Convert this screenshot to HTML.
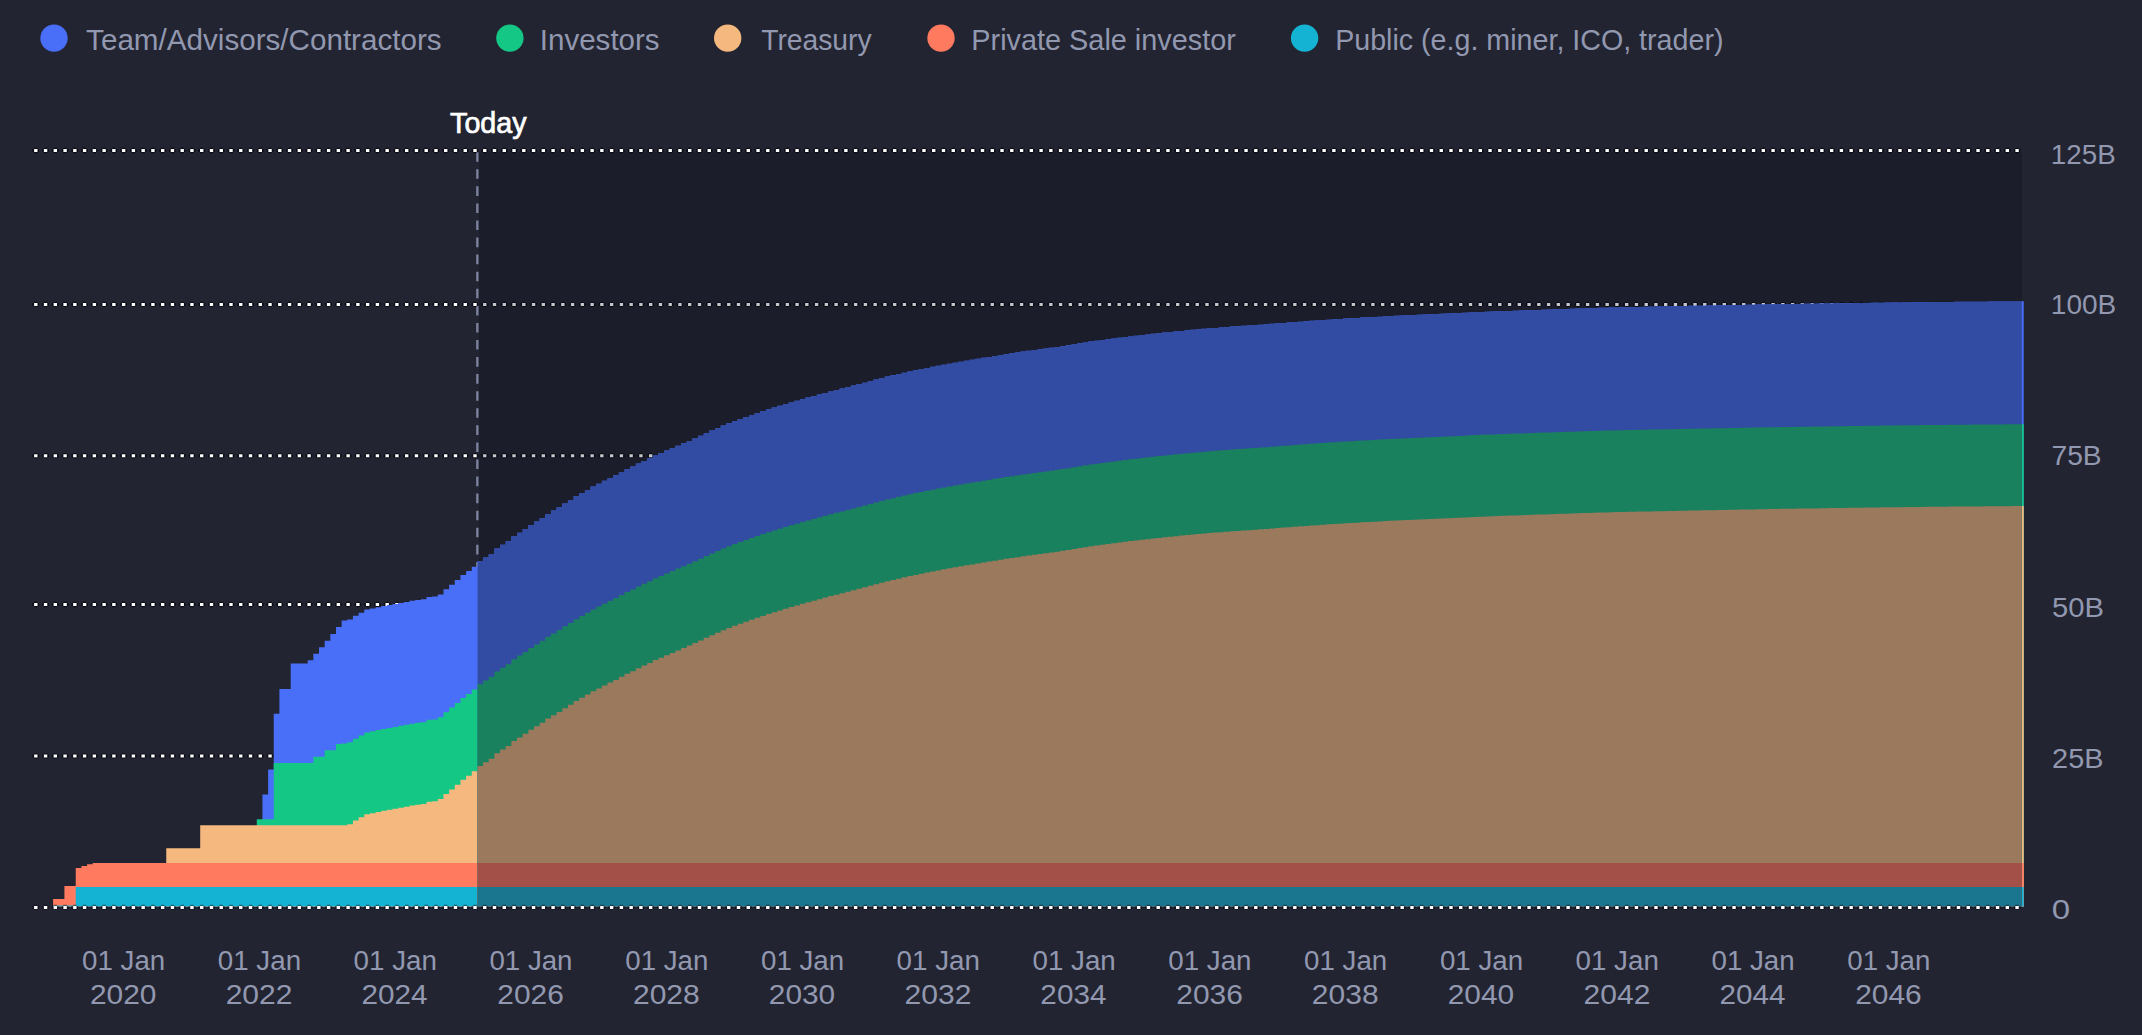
<!DOCTYPE html>
<html lang="en">
<head>
<meta charset="utf-8">
<title>Token unlock schedule</title>
<style>
html,body{margin:0;padding:0;background:#222431;}
body{width:2142px;height:1035px;overflow:hidden;font-family:"Liberation Sans",Arial,sans-serif;}
svg{display:block;}
</style>
</head>
<body>
<svg width="2142" height="1035" viewBox="0 0 2142 1035" font-family="'Liberation Sans', Arial, sans-serif">
<rect width="2142" height="1035" fill="#222431"/>
<line id="today-line" x1="477.35" x2="477.35" y1="152.2" y2="907.4" stroke="#7d84a0" stroke-width="2.3" stroke-dasharray="9.6 7.47"/>
<g id="grid"><line x1="32.40" x2="2021.5" y1="150.5" y2="150.5" stroke="#070812" stroke-opacity="0.8" stroke-width="3.0" stroke-dasharray="6.8 2.96"/><line x1="34.1" x2="2019.5" y1="150.5" y2="150.5" stroke="#070812" stroke-opacity="0.8" stroke-width="5.3" stroke-dasharray="3.4 6.36"/><line x1="34.1" x2="2019.5" y1="150.5" y2="150.5" stroke="#fff" stroke-width="3.0" stroke-dasharray="3.4 6.36" /><line x1="32.40" x2="2021.5" y1="304.4" y2="304.4" stroke="#070812" stroke-opacity="0.8" stroke-width="3.0" stroke-dasharray="6.8 2.96"/><line x1="34.1" x2="2019.5" y1="304.4" y2="304.4" stroke="#070812" stroke-opacity="0.8" stroke-width="5.3" stroke-dasharray="3.4 6.36"/><line x1="34.1" x2="2019.5" y1="304.4" y2="304.4" stroke="#fff" stroke-width="3.0" stroke-dasharray="3.4 6.36" /><line x1="32.40" x2="2021.5" y1="455.7" y2="455.7" stroke="#070812" stroke-opacity="0.8" stroke-width="3.0" stroke-dasharray="6.8 2.96"/><line x1="34.1" x2="2019.5" y1="455.7" y2="455.7" stroke="#070812" stroke-opacity="0.8" stroke-width="5.3" stroke-dasharray="3.4 6.36"/><line x1="34.1" x2="2019.5" y1="455.7" y2="455.7" stroke="#fff" stroke-width="3.0" stroke-dasharray="3.4 6.36" /><line x1="32.40" x2="2021.5" y1="604.5" y2="604.5" stroke="#070812" stroke-opacity="0.8" stroke-width="3.0" stroke-dasharray="6.8 2.96"/><line x1="34.1" x2="2019.5" y1="604.5" y2="604.5" stroke="#070812" stroke-opacity="0.8" stroke-width="5.3" stroke-dasharray="3.4 6.36"/><line x1="34.1" x2="2019.5" y1="604.5" y2="604.5" stroke="#fff" stroke-width="3.0" stroke-dasharray="3.4 6.36" /><line x1="32.40" x2="2021.5" y1="755.9" y2="755.9" stroke="#070812" stroke-opacity="0.8" stroke-width="3.0" stroke-dasharray="6.8 2.96"/><line x1="34.1" x2="2019.5" y1="755.9" y2="755.9" stroke="#070812" stroke-opacity="0.8" stroke-width="5.3" stroke-dasharray="3.4 6.36"/><line x1="34.1" x2="2019.5" y1="755.9" y2="755.9" stroke="#fff" stroke-width="3.0" stroke-dasharray="3.4 6.36" /></g>
<rect id="future-shade" x="479.0" y="152" width="1542.80" height="755.40" fill="#040a17" fill-opacity="0.23"/>
<defs><clipPath id="fut"><rect x="477.6" y="140" width="1544.20" height="780"/></clipPath></defs>
<g id="areas-past"><path fill="#496ef7" d="M262.44,906.60V794.50H268.09V769.45H273.75V713.80H279.41V689.10H285.06H290.72V663.50H296.38H302.04H307.69V660.30H313.35V653.75H319.01V647.20H324.67V640.70H330.32V634.05H335.98V627.10H341.64V620.50H347.30V619.43H352.95V615.87H358.61V612.63H364.27V609.60H369.93V608.43H375.58V607.20H381.24V606.10H386.90V605.03H392.56V604.00H398.21V602.93H403.87V601.93H409.53V600.87H415.19V599.97H420.85V599.23H426.50V596.97H432.16V596.50H437.82V594.40H443.48V589.23H449.13V584.70H454.79V580.12H460.45V575.03H466.11V571.03H471.76V566.63H477.42V561.33H483.08V557.53H488.74V553.97H494.39V548.60H500.05V544.80H505.71V541.25H511.37V536.25H517.02V532.70H522.68V529.12H528.34V525.05H534.00V521.50H539.65V517.95H545.31V513.90H550.97V510.55H556.62V507.20H562.28V503.45H567.94V500.10H573.60V496.30H579.25V493.12H584.91V489.88H590.57V486.55H596.23V483.70H601.88V480.82H607.54V477.88H613.20V475.20H618.86V472.02H624.51V469.15H630.17V466.50H635.83V463.60H641.49V460.90H647.14V458.30H652.80V455.40H658.46V453.00H664.12V450.60H669.77V448.20H675.43V445.70H681.09V443.30H686.75V440.90H692.40V438.39H698.06V435.79H703.72V433.16H709.38V430.54H715.03V427.99H720.69V425.57H726.35V423.31H732.01V421.14H737.66V419.04H743.32V417.00H748.98V415.02H754.64V413.10H760.29V411.21H765.95V409.37H771.61V407.57H777.27V405.80H782.92V404.09H788.58V402.41H794.24V400.77H799.90V399.16H805.55V397.57H811.21V396.01H816.87V394.45H822.53V392.91H828.18V391.42H833.84V389.95H839.50V388.50H845.16V387.06H850.81V385.61H856.47V384.15H862.13V382.66H867.79V381.10H873.44V379.50H879.10V378.01H884.76V376.61H890.42V375.26H896.07V373.94H901.73V372.66H907.39V371.42H913.05V370.21H918.70V369.04H924.36V367.89H930.02V366.78H935.68V365.70H941.33V364.65H946.99V363.63H952.65V362.63H958.31V361.65H963.96V360.67H969.62V359.71H975.28V358.76H980.94V357.81H986.59V356.88H992.25V355.96H997.91V355.06H1003.57V354.17H1009.23V353.29H1014.88V352.43H1020.54V351.59H1026.20V350.79H1031.86V350.01H1037.51V349.26H1043.17V348.50H1048.83V347.74H1054.49V346.95H1060.14V346.13H1065.80V345.25H1071.46V344.27H1077.12V343.31H1082.77V342.45H1088.43V341.61H1094.09V340.81H1099.74V340.03H1105.40V339.27H1111.06V338.53H1116.72V337.81H1122.38V337.11H1128.03V336.42H1133.69V335.74H1139.35V335.08H1145.01V334.44H1150.66V333.81H1156.32V333.20H1161.98V332.60H1167.63V332.02H1173.29V331.46H1178.95V330.91H1184.61V330.37H1190.26V329.85H1195.92V329.34H1201.58V328.84H1207.24V328.36H1212.89V327.89H1218.55V327.44H1224.21V327.01H1229.87V326.60H1235.53V326.21H1241.18V325.83H1246.84V325.45H1252.50V325.07H1258.15V324.67H1263.81V324.26H1269.47V323.81H1275.13V323.36H1280.78V322.92H1286.44V322.49H1292.10V322.07H1297.76V321.65H1303.41V321.23H1309.07V320.83H1314.73V320.43H1320.39V320.04H1326.04V319.67H1331.70V319.31H1337.36V318.95H1343.02V318.60H1348.67V318.26H1354.33V317.93H1359.99V317.60H1365.65V317.29H1371.31V316.98H1376.96V316.68H1382.62V316.39H1388.28V316.10H1393.93V315.83H1399.59V315.56H1405.25V315.29H1410.91V315.02H1416.57V314.76H1422.22V314.49H1427.88V314.24H1433.54V313.98H1439.19V313.73H1444.85V313.49H1450.51V313.24H1456.17V312.98H1461.83V312.73H1467.48V312.46H1473.14V312.18H1478.80V311.93H1484.45V311.70H1490.11V311.49H1495.77V311.28H1501.43V311.08H1507.09V310.88H1512.74V310.69H1518.40V310.50H1524.06V310.30H1529.71V310.10H1535.37V309.90H1541.03V309.70H1546.69V309.51H1552.35V309.31H1558.00V309.12H1563.66V308.93H1569.32V308.75H1574.97V308.57H1580.63V308.39H1586.29V308.20H1591.95V308.02H1597.61V307.85H1603.26V307.68H1608.92V307.52H1614.58V307.38H1620.23V307.24H1625.89V307.12H1631.55V307.01H1637.21V306.91H1642.87V306.81H1648.52V306.71H1654.18V306.61H1659.84V306.50H1665.49V306.38H1671.15V306.24H1676.81V306.11H1682.47V305.99H1688.12V305.87H1693.78V305.76H1699.44V305.66H1705.10V305.55H1710.75V305.45H1716.41V305.34H1722.07V305.24H1727.73V305.13H1733.38V305.02H1739.04V304.90H1744.70V304.79H1750.36V304.68H1756.01V304.57H1761.67V304.46H1767.33V304.36H1772.99V304.26H1778.64V304.17H1784.30V304.09H1789.96V304.00H1795.62V303.92H1801.27V303.84H1806.93V303.76H1812.59V303.68H1818.25V303.59H1823.90V303.51H1829.56V303.42H1835.22V303.34H1840.88V303.26H1846.53V303.17H1852.19V303.09H1857.85V303.00H1863.51V302.92H1869.16V302.82H1874.82V302.73H1880.48V302.66H1886.14V302.59H1891.79V302.52H1897.45V302.45H1903.11V302.39H1908.77V302.32H1914.42V302.26H1920.08V302.20H1925.74V302.14H1931.40V302.09H1937.05V302.03H1942.71V301.98H1948.37V301.92H1954.03V301.87H1959.68V301.82H1965.34V301.77H1971.00V301.72H1976.66V301.68H1982.31V301.63H1987.97V301.58H1993.63V301.54H1999.29V301.50H2004.94V301.46H2010.60V301.42H2016.26V301.38H2021.92V301.34H2023.70V906.60Z"/><path fill="#14c784" d="M256.78,906.60V819.30H262.44H268.09H273.75V763.00H279.41H285.06H290.72H296.38H302.04H307.69H313.35V756.80H319.01H324.67V750.35H330.32H335.98V743.90H341.64V743.40H347.30V742.33H352.95V738.77H358.61V735.53H364.27V732.50H369.93V731.33H375.58V730.10H381.24V729.00H386.90V727.93H392.56V726.90H398.21V725.83H403.87V724.83H409.53V723.77H415.19V722.87H420.85V722.13H426.50V719.87H432.16V719.40H437.82V717.30H443.48V712.13H449.13V707.60H454.79V703.02H460.45V697.93H466.11V693.93H471.76V689.53H477.42V684.23H483.08V680.43H488.74V676.87H494.39V671.50H500.05V667.70H505.71V664.15H511.37V659.15H517.02V655.60H522.68V652.02H528.34V647.95H534.00V644.40H539.65V640.85H545.31V636.80H550.97V633.45H556.62V630.10H562.28V626.35H567.94V623.00H573.60V619.20H579.25V616.02H584.91V612.78H590.57V609.45H596.23V606.60H601.88V603.72H607.54V600.77H613.20V598.10H618.86V594.92H624.51V592.05H630.17V589.40H635.83V586.50H641.49V583.80H647.14V581.20H652.80V578.30H658.46V575.90H664.12V573.50H669.77V571.10H675.43V568.60H681.09V566.20H686.75V563.80H692.40V561.29H698.06V558.69H703.72V556.06H709.38V553.44H715.03V550.89H720.69V548.47H726.35V546.21H732.01V544.04H737.66V541.94H743.32V539.90H748.98V537.92H754.64V536.00H760.29V534.11H765.95V532.27H771.61V530.47H777.27V528.70H782.92V526.99H788.58V525.31H794.24V523.67H799.90V522.06H805.55V520.47H811.21V518.91H816.87V517.35H822.53V515.81H828.18V514.32H833.84V512.85H839.50V511.40H845.16V509.96H850.81V508.51H856.47V507.05H862.13V505.56H867.79V504.00H873.44V502.40H879.10V500.91H884.76V499.51H890.42V498.16H896.07V496.84H901.73V495.56H907.39V494.32H913.05V493.11H918.70V491.94H924.36V490.79H930.02V489.68H935.68V488.60H941.33V487.55H946.99V486.53H952.65V485.53H958.31V484.55H963.96V483.57H969.62V482.61H975.28V481.66H980.94V480.71H986.59V479.78H992.25V478.86H997.91V477.96H1003.57V477.07H1009.23V476.19H1014.88V475.33H1020.54V474.49H1026.20V473.69H1031.86V472.91H1037.51V472.16H1043.17V471.40H1048.83V470.64H1054.49V469.85H1060.14V469.03H1065.80V468.15H1071.46V467.17H1077.12V466.21H1082.77V465.35H1088.43V464.51H1094.09V463.71H1099.74V462.93H1105.40V462.17H1111.06V461.43H1116.72V460.71H1122.38V460.01H1128.03V459.32H1133.69V458.64H1139.35V457.98H1145.01V457.34H1150.66V456.71H1156.32V456.10H1161.98V455.50H1167.63V454.92H1173.29V454.36H1178.95V453.81H1184.61V453.27H1190.26V452.75H1195.92V452.24H1201.58V451.74H1207.24V451.26H1212.89V450.79H1218.55V450.34H1224.21V449.91H1229.87V449.50H1235.53V449.11H1241.18V448.73H1246.84V448.35H1252.50V447.97H1258.15V447.57H1263.81V447.16H1269.47V446.71H1275.13V446.26H1280.78V445.82H1286.44V445.39H1292.10V444.97H1297.76V444.55H1303.41V444.13H1309.07V443.73H1314.73V443.33H1320.39V442.94H1326.04V442.57H1331.70V442.21H1337.36V441.85H1343.02V441.50H1348.67V441.16H1354.33V440.83H1359.99V440.50H1365.65V440.19H1371.31V439.88H1376.96V439.58H1382.62V439.29H1388.28V439.00H1393.93V438.73H1399.59V438.46H1405.25V438.19H1410.91V437.92H1416.57V437.66H1422.22V437.39H1427.88V437.14H1433.54V436.88H1439.19V436.63H1444.85V436.39H1450.51V436.14H1456.17V435.88H1461.83V435.63H1467.48V435.36H1473.14V435.08H1478.80V434.83H1484.45V434.60H1490.11V434.39H1495.77V434.18H1501.43V433.98H1507.09V433.78H1512.74V433.59H1518.40V433.40H1524.06V433.20H1529.71V433.00H1535.37V432.80H1541.03V432.60H1546.69V432.41H1552.35V432.21H1558.00V432.02H1563.66V431.83H1569.32V431.65H1574.97V431.47H1580.63V431.29H1586.29V431.10H1591.95V430.92H1597.61V430.75H1603.26V430.58H1608.92V430.42H1614.58V430.28H1620.23V430.14H1625.89V430.02H1631.55V429.91H1637.21V429.81H1642.87V429.71H1648.52V429.61H1654.18V429.51H1659.84V429.40H1665.49V429.28H1671.15V429.14H1676.81V429.01H1682.47V428.89H1688.12V428.77H1693.78V428.66H1699.44V428.56H1705.10V428.45H1710.75V428.35H1716.41V428.24H1722.07V428.14H1727.73V428.03H1733.38V427.92H1739.04V427.80H1744.70V427.69H1750.36V427.58H1756.01V427.47H1761.67V427.36H1767.33V427.26H1772.99V427.16H1778.64V427.07H1784.30V426.99H1789.96V426.90H1795.62V426.82H1801.27V426.74H1806.93V426.66H1812.59V426.58H1818.25V426.49H1823.90V426.41H1829.56V426.32H1835.22V426.24H1840.88V426.16H1846.53V426.07H1852.19V425.99H1857.85V425.90H1863.51V425.82H1869.16V425.72H1874.82V425.63H1880.48V425.56H1886.14V425.49H1891.79V425.42H1897.45V425.35H1903.11V425.29H1908.77V425.22H1914.42V425.16H1920.08V425.10H1925.74V425.04H1931.40V424.99H1937.05V424.93H1942.71V424.88H1948.37V424.82H1954.03V424.77H1959.68V424.72H1965.34V424.67H1971.00V424.62H1976.66V424.58H1982.31V424.53H1987.97V424.48H1993.63V424.44H1999.29V424.40H2004.94V424.36H2010.60V424.32H2016.26V424.28H2021.92V424.24H2023.70V906.60Z"/><path fill="#f5b97f" d="M166.26,906.60V848.30H171.92H177.57H183.23H188.89H194.55H200.20V825.20H205.86H211.52H217.18H222.83H228.49H234.15H239.81H245.46H251.12H256.78H262.44H268.09H273.75H279.41H285.06H290.72H296.38H302.04H307.69H313.35H319.01H324.67H330.32H335.98H341.64H347.30V824.13H352.95V820.57H358.61V817.33H364.27V814.30H369.93V813.13H375.58V811.90H381.24V810.80H386.90V809.73H392.56V808.70H398.21V807.63H403.87V806.63H409.53V805.57H415.19V804.67H420.85V803.93H426.50V801.67H432.16V801.20H437.82V799.10H443.48V793.93H449.13V789.40H454.79V784.82H460.45V779.73H466.11V775.73H471.76V771.33H477.42V766.03H483.08V762.23H488.74V758.67H494.39V753.30H500.05V749.50H505.71V745.95H511.37V740.95H517.02V737.40H522.68V733.82H528.34V729.75H534.00V726.20H539.65V722.65H545.31V718.60H550.97V715.25H556.62V711.90H562.28V708.15H567.94V704.80H573.60V701.00H579.25V697.82H584.91V694.58H590.57V691.25H596.23V688.40H601.88V685.52H607.54V682.57H613.20V679.90H618.86V676.72H624.51V673.85H630.17V671.20H635.83V668.30H641.49V665.60H647.14V663.00H652.80V660.10H658.46V657.70H664.12V655.30H669.77V652.90H675.43V650.40H681.09V648.00H686.75V645.60H692.40V643.09H698.06V640.49H703.72V637.86H709.38V635.24H715.03V632.69H720.69V630.27H726.35V628.01H732.01V625.84H737.66V623.74H743.32V621.70H748.98V619.72H754.64V617.80H760.29V615.91H765.95V614.07H771.61V612.27H777.27V610.50H782.92V608.79H788.58V607.11H794.24V605.47H799.90V603.86H805.55V602.27H811.21V600.71H816.87V599.15H822.53V597.61H828.18V596.12H833.84V594.65H839.50V593.20H845.16V591.76H850.81V590.31H856.47V588.85H862.13V587.36H867.79V585.80H873.44V584.20H879.10V582.71H884.76V581.31H890.42V579.96H896.07V578.64H901.73V577.36H907.39V576.12H913.05V574.91H918.70V573.74H924.36V572.59H930.02V571.48H935.68V570.40H941.33V569.35H946.99V568.33H952.65V567.33H958.31V566.35H963.96V565.37H969.62V564.41H975.28V563.46H980.94V562.51H986.59V561.58H992.25V560.66H997.91V559.76H1003.57V558.87H1009.23V557.99H1014.88V557.13H1020.54V556.29H1026.20V555.49H1031.86V554.71H1037.51V553.96H1043.17V553.20H1048.83V552.44H1054.49V551.65H1060.14V550.83H1065.80V549.95H1071.46V548.97H1077.12V548.01H1082.77V547.15H1088.43V546.31H1094.09V545.51H1099.74V544.73H1105.40V543.97H1111.06V543.23H1116.72V542.51H1122.38V541.81H1128.03V541.12H1133.69V540.44H1139.35V539.78H1145.01V539.14H1150.66V538.51H1156.32V537.90H1161.98V537.30H1167.63V536.72H1173.29V536.16H1178.95V535.61H1184.61V535.07H1190.26V534.55H1195.92V534.04H1201.58V533.54H1207.24V533.06H1212.89V532.59H1218.55V532.14H1224.21V531.71H1229.87V531.30H1235.53V530.91H1241.18V530.53H1246.84V530.15H1252.50V529.77H1258.15V529.37H1263.81V528.96H1269.47V528.51H1275.13V528.06H1280.78V527.62H1286.44V527.19H1292.10V526.77H1297.76V526.35H1303.41V525.93H1309.07V525.53H1314.73V525.13H1320.39V524.74H1326.04V524.37H1331.70V524.01H1337.36V523.65H1343.02V523.30H1348.67V522.96H1354.33V522.63H1359.99V522.30H1365.65V521.99H1371.31V521.68H1376.96V521.38H1382.62V521.09H1388.28V520.80H1393.93V520.53H1399.59V520.26H1405.25V519.99H1410.91V519.72H1416.57V519.46H1422.22V519.19H1427.88V518.94H1433.54V518.68H1439.19V518.43H1444.85V518.19H1450.51V517.94H1456.17V517.68H1461.83V517.43H1467.48V517.16H1473.14V516.88H1478.80V516.63H1484.45V516.40H1490.11V516.19H1495.77V515.98H1501.43V515.78H1507.09V515.58H1512.74V515.39H1518.40V515.20H1524.06V515.00H1529.71V514.80H1535.37V514.60H1541.03V514.40H1546.69V514.21H1552.35V514.01H1558.00V513.82H1563.66V513.63H1569.32V513.45H1574.97V513.27H1580.63V513.09H1586.29V512.90H1591.95V512.72H1597.61V512.55H1603.26V512.38H1608.92V512.22H1614.58V512.08H1620.23V511.94H1625.89V511.82H1631.55V511.71H1637.21V511.61H1642.87V511.51H1648.52V511.41H1654.18V511.31H1659.84V511.20H1665.49V511.08H1671.15V510.94H1676.81V510.81H1682.47V510.69H1688.12V510.57H1693.78V510.46H1699.44V510.36H1705.10V510.25H1710.75V510.15H1716.41V510.04H1722.07V509.94H1727.73V509.83H1733.38V509.72H1739.04V509.60H1744.70V509.49H1750.36V509.38H1756.01V509.27H1761.67V509.16H1767.33V509.06H1772.99V508.96H1778.64V508.87H1784.30V508.79H1789.96V508.70H1795.62V508.62H1801.27V508.54H1806.93V508.46H1812.59V508.38H1818.25V508.29H1823.90V508.21H1829.56V508.12H1835.22V508.04H1840.88V507.96H1846.53V507.87H1852.19V507.79H1857.85V507.70H1863.51V507.62H1869.16V507.52H1874.82V507.43H1880.48V507.36H1886.14V507.29H1891.79V507.22H1897.45V507.15H1903.11V507.09H1908.77V507.02H1914.42V506.96H1920.08V506.90H1925.74V506.84H1931.40V506.79H1937.05V506.73H1942.71V506.68H1948.37V506.62H1954.03V506.57H1959.68V506.52H1965.34V506.47H1971.00V506.42H1976.66V506.38H1982.31V506.33H1987.97V506.28H1993.63V506.24H1999.29V506.20H2004.94V506.16H2010.60V506.12H2016.26V506.08H2021.92V506.04H2023.70V906.60Z"/><path fill="#ff7a5f" d="M53.11,906.60V899.00H58.77H64.42V886.10H70.08H75.74V867.90H81.40V866.00H87.05V864.30H92.71V862.90H98.37H104.03H109.68H115.34H121.00H126.66H132.31H137.97H143.63H149.29H154.94H160.60H166.26H171.92H177.57H183.23H188.89H194.55H200.20H205.86H211.52H217.18H222.83H228.49H234.15H239.81H245.46H251.12H256.78H262.44H268.09H273.75H279.41H285.06H290.72H296.38H302.04H307.69H313.35H319.01H324.67H330.32H335.98H341.64H347.30H352.95H358.61H364.27H369.93H375.58H381.24H386.90H392.56H398.21H403.87H409.53H415.19H420.85H426.50H432.16H437.82H443.48H449.13H454.79H460.45H466.11H471.76H477.42H483.08H488.74H494.39H500.05H505.71H511.37H517.02H522.68H528.34H534.00H539.65H545.31H550.97H556.62H562.28H567.94H573.60H579.25H584.91H590.57H596.23H601.88H607.54H613.20H618.86H624.51H630.17H635.83H641.49H647.14H652.80H658.46H664.12H669.77H675.43H681.09H686.75H692.40H698.06H703.72H709.38H715.03H720.69H726.35H732.01H737.66H743.32H748.98H754.64H760.29H765.95H771.61H777.27H782.92H788.58H794.24H799.90H805.55H811.21H816.87H822.53H828.18H833.84H839.50H845.16H850.81H856.47H862.13H867.79H873.44H879.10H884.76H890.42H896.07H901.73H907.39H913.05H918.70H924.36H930.02H935.68H941.33H946.99H952.65H958.31H963.96H969.62H975.28H980.94H986.59H992.25H997.91H1003.57H1009.23H1014.88H1020.54H1026.20H1031.86H1037.51H1043.17H1048.83H1054.49H1060.14H1065.80H1071.46H1077.12H1082.77H1088.43H1094.09H1099.74H1105.40H1111.06H1116.72H1122.38H1128.03H1133.69H1139.35H1145.01H1150.66H1156.32H1161.98H1167.63H1173.29H1178.95H1184.61H1190.26H1195.92H1201.58H1207.24H1212.89H1218.55H1224.21H1229.87H1235.53H1241.18H1246.84H1252.50H1258.15H1263.81H1269.47H1275.13H1280.78H1286.44H1292.10H1297.76H1303.41H1309.07H1314.73H1320.39H1326.04H1331.70H1337.36H1343.02H1348.67H1354.33H1359.99H1365.65H1371.31H1376.96H1382.62H1388.28H1393.93H1399.59H1405.25H1410.91H1416.57H1422.22H1427.88H1433.54H1439.19H1444.85H1450.51H1456.17H1461.83H1467.48H1473.14H1478.80H1484.45H1490.11H1495.77H1501.43H1507.09H1512.74H1518.40H1524.06H1529.71H1535.37H1541.03H1546.69H1552.35H1558.00H1563.66H1569.32H1574.97H1580.63H1586.29H1591.95H1597.61H1603.26H1608.92H1614.58H1620.23H1625.89H1631.55H1637.21H1642.87H1648.52H1654.18H1659.84H1665.49H1671.15H1676.81H1682.47H1688.12H1693.78H1699.44H1705.10H1710.75H1716.41H1722.07H1727.73H1733.38H1739.04H1744.70H1750.36H1756.01H1761.67H1767.33H1772.99H1778.64H1784.30H1789.96H1795.62H1801.27H1806.93H1812.59H1818.25H1823.90H1829.56H1835.22H1840.88H1846.53H1852.19H1857.85H1863.51H1869.16H1874.82H1880.48H1886.14H1891.79H1897.45H1903.11H1908.77H1914.42H1920.08H1925.74H1931.40H1937.05H1942.71H1948.37H1954.03H1959.68H1965.34H1971.00H1976.66H1982.31H1987.97H1993.63H1999.29H2004.94H2010.60H2016.26H2021.92H2023.70V906.60Z"/><path fill="#15b3d3" d="M53.11,906.60V905.50H58.77H64.42H70.08H75.74V887.05H81.40H87.05H92.71H98.37H104.03H109.68H115.34H121.00H126.66H132.31H137.97H143.63H149.29H154.94H160.60H166.26H171.92H177.57H183.23H188.89H194.55H200.20H205.86H211.52H217.18H222.83H228.49H234.15H239.81H245.46H251.12H256.78H262.44H268.09H273.75H279.41H285.06H290.72H296.38H302.04H307.69H313.35H319.01H324.67H330.32H335.98H341.64H347.30H352.95H358.61H364.27H369.93H375.58H381.24H386.90H392.56H398.21H403.87H409.53H415.19H420.85H426.50H432.16H437.82H443.48H449.13H454.79H460.45H466.11H471.76H477.42H483.08H488.74H494.39H500.05H505.71H511.37H517.02H522.68H528.34H534.00H539.65H545.31H550.97H556.62H562.28H567.94H573.60H579.25H584.91H590.57H596.23H601.88H607.54H613.20H618.86H624.51H630.17H635.83H641.49H647.14H652.80H658.46H664.12H669.77H675.43H681.09H686.75H692.40H698.06H703.72H709.38H715.03H720.69H726.35H732.01H737.66H743.32H748.98H754.64H760.29H765.95H771.61H777.27H782.92H788.58H794.24H799.90H805.55H811.21H816.87H822.53H828.18H833.84H839.50H845.16H850.81H856.47H862.13H867.79H873.44H879.10H884.76H890.42H896.07H901.73H907.39H913.05H918.70H924.36H930.02H935.68H941.33H946.99H952.65H958.31H963.96H969.62H975.28H980.94H986.59H992.25H997.91H1003.57H1009.23H1014.88H1020.54H1026.20H1031.86H1037.51H1043.17H1048.83H1054.49H1060.14H1065.80H1071.46H1077.12H1082.77H1088.43H1094.09H1099.74H1105.40H1111.06H1116.72H1122.38H1128.03H1133.69H1139.35H1145.01H1150.66H1156.32H1161.98H1167.63H1173.29H1178.95H1184.61H1190.26H1195.92H1201.58H1207.24H1212.89H1218.55H1224.21H1229.87H1235.53H1241.18H1246.84H1252.50H1258.15H1263.81H1269.47H1275.13H1280.78H1286.44H1292.10H1297.76H1303.41H1309.07H1314.73H1320.39H1326.04H1331.70H1337.36H1343.02H1348.67H1354.33H1359.99H1365.65H1371.31H1376.96H1382.62H1388.28H1393.93H1399.59H1405.25H1410.91H1416.57H1422.22H1427.88H1433.54H1439.19H1444.85H1450.51H1456.17H1461.83H1467.48H1473.14H1478.80H1484.45H1490.11H1495.77H1501.43H1507.09H1512.74H1518.40H1524.06H1529.71H1535.37H1541.03H1546.69H1552.35H1558.00H1563.66H1569.32H1574.97H1580.63H1586.29H1591.95H1597.61H1603.26H1608.92H1614.58H1620.23H1625.89H1631.55H1637.21H1642.87H1648.52H1654.18H1659.84H1665.49H1671.15H1676.81H1682.47H1688.12H1693.78H1699.44H1705.10H1710.75H1716.41H1722.07H1727.73H1733.38H1739.04H1744.70H1750.36H1756.01H1761.67H1767.33H1772.99H1778.64H1784.30H1789.96H1795.62H1801.27H1806.93H1812.59H1818.25H1823.90H1829.56H1835.22H1840.88H1846.53H1852.19H1857.85H1863.51H1869.16H1874.82H1880.48H1886.14H1891.79H1897.45H1903.11H1908.77H1914.42H1920.08H1925.74H1931.40H1937.05H1942.71H1948.37H1954.03H1959.68H1965.34H1971.00H1976.66H1982.31H1987.97H1993.63H1999.29H2004.94H2010.60H2016.26H2021.92H2023.70V906.60Z"/></g>
<g id="areas-future" clip-path="url(#fut)"><path fill="#324ba3" d="M262.44,906.60V794.50H268.09V769.45H273.75V713.80H279.41V689.10H285.06H290.72V663.50H296.38H302.04H307.69V660.30H313.35V653.75H319.01V647.20H324.67V640.70H330.32V634.05H335.98V627.10H341.64V620.50H347.30V619.43H352.95V615.87H358.61V612.63H364.27V609.60H369.93V608.43H375.58V607.20H381.24V606.10H386.90V605.03H392.56V604.00H398.21V602.93H403.87V601.93H409.53V600.87H415.19V599.97H420.85V599.23H426.50V596.97H432.16V596.50H437.82V594.40H443.48V589.23H449.13V584.70H454.79V580.12H460.45V575.03H466.11V571.03H471.76V566.63H477.42V561.33H483.08V557.53H488.74V553.97H494.39V548.60H500.05V544.80H505.71V541.25H511.37V536.25H517.02V532.70H522.68V529.12H528.34V525.05H534.00V521.50H539.65V517.95H545.31V513.90H550.97V510.55H556.62V507.20H562.28V503.45H567.94V500.10H573.60V496.30H579.25V493.12H584.91V489.88H590.57V486.55H596.23V483.70H601.88V480.82H607.54V477.88H613.20V475.20H618.86V472.02H624.51V469.15H630.17V466.50H635.83V463.60H641.49V460.90H647.14V458.30H652.80V455.40H658.46V453.00H664.12V450.60H669.77V448.20H675.43V445.70H681.09V443.30H686.75V440.90H692.40V438.39H698.06V435.79H703.72V433.16H709.38V430.54H715.03V427.99H720.69V425.57H726.35V423.31H732.01V421.14H737.66V419.04H743.32V417.00H748.98V415.02H754.64V413.10H760.29V411.21H765.95V409.37H771.61V407.57H777.27V405.80H782.92V404.09H788.58V402.41H794.24V400.77H799.90V399.16H805.55V397.57H811.21V396.01H816.87V394.45H822.53V392.91H828.18V391.42H833.84V389.95H839.50V388.50H845.16V387.06H850.81V385.61H856.47V384.15H862.13V382.66H867.79V381.10H873.44V379.50H879.10V378.01H884.76V376.61H890.42V375.26H896.07V373.94H901.73V372.66H907.39V371.42H913.05V370.21H918.70V369.04H924.36V367.89H930.02V366.78H935.68V365.70H941.33V364.65H946.99V363.63H952.65V362.63H958.31V361.65H963.96V360.67H969.62V359.71H975.28V358.76H980.94V357.81H986.59V356.88H992.25V355.96H997.91V355.06H1003.57V354.17H1009.23V353.29H1014.88V352.43H1020.54V351.59H1026.20V350.79H1031.86V350.01H1037.51V349.26H1043.17V348.50H1048.83V347.74H1054.49V346.95H1060.14V346.13H1065.80V345.25H1071.46V344.27H1077.12V343.31H1082.77V342.45H1088.43V341.61H1094.09V340.81H1099.74V340.03H1105.40V339.27H1111.06V338.53H1116.72V337.81H1122.38V337.11H1128.03V336.42H1133.69V335.74H1139.35V335.08H1145.01V334.44H1150.66V333.81H1156.32V333.20H1161.98V332.60H1167.63V332.02H1173.29V331.46H1178.95V330.91H1184.61V330.37H1190.26V329.85H1195.92V329.34H1201.58V328.84H1207.24V328.36H1212.89V327.89H1218.55V327.44H1224.21V327.01H1229.87V326.60H1235.53V326.21H1241.18V325.83H1246.84V325.45H1252.50V325.07H1258.15V324.67H1263.81V324.26H1269.47V323.81H1275.13V323.36H1280.78V322.92H1286.44V322.49H1292.10V322.07H1297.76V321.65H1303.41V321.23H1309.07V320.83H1314.73V320.43H1320.39V320.04H1326.04V319.67H1331.70V319.31H1337.36V318.95H1343.02V318.60H1348.67V318.26H1354.33V317.93H1359.99V317.60H1365.65V317.29H1371.31V316.98H1376.96V316.68H1382.62V316.39H1388.28V316.10H1393.93V315.83H1399.59V315.56H1405.25V315.29H1410.91V315.02H1416.57V314.76H1422.22V314.49H1427.88V314.24H1433.54V313.98H1439.19V313.73H1444.85V313.49H1450.51V313.24H1456.17V312.98H1461.83V312.73H1467.48V312.46H1473.14V312.18H1478.80V311.93H1484.45V311.70H1490.11V311.49H1495.77V311.28H1501.43V311.08H1507.09V310.88H1512.74V310.69H1518.40V310.50H1524.06V310.30H1529.71V310.10H1535.37V309.90H1541.03V309.70H1546.69V309.51H1552.35V309.31H1558.00V309.12H1563.66V308.93H1569.32V308.75H1574.97V308.57H1580.63V308.39H1586.29V308.20H1591.95V308.02H1597.61V307.85H1603.26V307.68H1608.92V307.52H1614.58V307.38H1620.23V307.24H1625.89V307.12H1631.55V307.01H1637.21V306.91H1642.87V306.81H1648.52V306.71H1654.18V306.61H1659.84V306.50H1665.49V306.38H1671.15V306.24H1676.81V306.11H1682.47V305.99H1688.12V305.87H1693.78V305.76H1699.44V305.66H1705.10V305.55H1710.75V305.45H1716.41V305.34H1722.07V305.24H1727.73V305.13H1733.38V305.02H1739.04V304.90H1744.70V304.79H1750.36V304.68H1756.01V304.57H1761.67V304.46H1767.33V304.36H1772.99V304.26H1778.64V304.17H1784.30V304.09H1789.96V304.00H1795.62V303.92H1801.27V303.84H1806.93V303.76H1812.59V303.68H1818.25V303.59H1823.90V303.51H1829.56V303.42H1835.22V303.34H1840.88V303.26H1846.53V303.17H1852.19V303.09H1857.85V303.00H1863.51V302.92H1869.16V302.82H1874.82V302.73H1880.48V302.66H1886.14V302.59H1891.79V302.52H1897.45V302.45H1903.11V302.39H1908.77V302.32H1914.42V302.26H1920.08V302.20H1925.74V302.14H1931.40V302.09H1937.05V302.03H1942.71V301.98H1948.37V301.92H1954.03V301.87H1959.68V301.82H1965.34V301.77H1971.00V301.72H1976.66V301.68H1982.31V301.63H1987.97V301.58H1993.63V301.54H1999.29V301.50H2004.94V301.46H2010.60V301.42H2016.26V301.38H2021.92V301.34H2023.70V906.60Z"/><path fill="#1a815e" d="M256.78,906.60V819.30H262.44H268.09H273.75V763.00H279.41H285.06H290.72H296.38H302.04H307.69H313.35V756.80H319.01H324.67V750.35H330.32H335.98V743.90H341.64V743.40H347.30V742.33H352.95V738.77H358.61V735.53H364.27V732.50H369.93V731.33H375.58V730.10H381.24V729.00H386.90V727.93H392.56V726.90H398.21V725.83H403.87V724.83H409.53V723.77H415.19V722.87H420.85V722.13H426.50V719.87H432.16V719.40H437.82V717.30H443.48V712.13H449.13V707.60H454.79V703.02H460.45V697.93H466.11V693.93H471.76V689.53H477.42V684.23H483.08V680.43H488.74V676.87H494.39V671.50H500.05V667.70H505.71V664.15H511.37V659.15H517.02V655.60H522.68V652.02H528.34V647.95H534.00V644.40H539.65V640.85H545.31V636.80H550.97V633.45H556.62V630.10H562.28V626.35H567.94V623.00H573.60V619.20H579.25V616.02H584.91V612.78H590.57V609.45H596.23V606.60H601.88V603.72H607.54V600.77H613.20V598.10H618.86V594.92H624.51V592.05H630.17V589.40H635.83V586.50H641.49V583.80H647.14V581.20H652.80V578.30H658.46V575.90H664.12V573.50H669.77V571.10H675.43V568.60H681.09V566.20H686.75V563.80H692.40V561.29H698.06V558.69H703.72V556.06H709.38V553.44H715.03V550.89H720.69V548.47H726.35V546.21H732.01V544.04H737.66V541.94H743.32V539.90H748.98V537.92H754.64V536.00H760.29V534.11H765.95V532.27H771.61V530.47H777.27V528.70H782.92V526.99H788.58V525.31H794.24V523.67H799.90V522.06H805.55V520.47H811.21V518.91H816.87V517.35H822.53V515.81H828.18V514.32H833.84V512.85H839.50V511.40H845.16V509.96H850.81V508.51H856.47V507.05H862.13V505.56H867.79V504.00H873.44V502.40H879.10V500.91H884.76V499.51H890.42V498.16H896.07V496.84H901.73V495.56H907.39V494.32H913.05V493.11H918.70V491.94H924.36V490.79H930.02V489.68H935.68V488.60H941.33V487.55H946.99V486.53H952.65V485.53H958.31V484.55H963.96V483.57H969.62V482.61H975.28V481.66H980.94V480.71H986.59V479.78H992.25V478.86H997.91V477.96H1003.57V477.07H1009.23V476.19H1014.88V475.33H1020.54V474.49H1026.20V473.69H1031.86V472.91H1037.51V472.16H1043.17V471.40H1048.83V470.64H1054.49V469.85H1060.14V469.03H1065.80V468.15H1071.46V467.17H1077.12V466.21H1082.77V465.35H1088.43V464.51H1094.09V463.71H1099.74V462.93H1105.40V462.17H1111.06V461.43H1116.72V460.71H1122.38V460.01H1128.03V459.32H1133.69V458.64H1139.35V457.98H1145.01V457.34H1150.66V456.71H1156.32V456.10H1161.98V455.50H1167.63V454.92H1173.29V454.36H1178.95V453.81H1184.61V453.27H1190.26V452.75H1195.92V452.24H1201.58V451.74H1207.24V451.26H1212.89V450.79H1218.55V450.34H1224.21V449.91H1229.87V449.50H1235.53V449.11H1241.18V448.73H1246.84V448.35H1252.50V447.97H1258.15V447.57H1263.81V447.16H1269.47V446.71H1275.13V446.26H1280.78V445.82H1286.44V445.39H1292.10V444.97H1297.76V444.55H1303.41V444.13H1309.07V443.73H1314.73V443.33H1320.39V442.94H1326.04V442.57H1331.70V442.21H1337.36V441.85H1343.02V441.50H1348.67V441.16H1354.33V440.83H1359.99V440.50H1365.65V440.19H1371.31V439.88H1376.96V439.58H1382.62V439.29H1388.28V439.00H1393.93V438.73H1399.59V438.46H1405.25V438.19H1410.91V437.92H1416.57V437.66H1422.22V437.39H1427.88V437.14H1433.54V436.88H1439.19V436.63H1444.85V436.39H1450.51V436.14H1456.17V435.88H1461.83V435.63H1467.48V435.36H1473.14V435.08H1478.80V434.83H1484.45V434.60H1490.11V434.39H1495.77V434.18H1501.43V433.98H1507.09V433.78H1512.74V433.59H1518.40V433.40H1524.06V433.20H1529.71V433.00H1535.37V432.80H1541.03V432.60H1546.69V432.41H1552.35V432.21H1558.00V432.02H1563.66V431.83H1569.32V431.65H1574.97V431.47H1580.63V431.29H1586.29V431.10H1591.95V430.92H1597.61V430.75H1603.26V430.58H1608.92V430.42H1614.58V430.28H1620.23V430.14H1625.89V430.02H1631.55V429.91H1637.21V429.81H1642.87V429.71H1648.52V429.61H1654.18V429.51H1659.84V429.40H1665.49V429.28H1671.15V429.14H1676.81V429.01H1682.47V428.89H1688.12V428.77H1693.78V428.66H1699.44V428.56H1705.10V428.45H1710.75V428.35H1716.41V428.24H1722.07V428.14H1727.73V428.03H1733.38V427.92H1739.04V427.80H1744.70V427.69H1750.36V427.58H1756.01V427.47H1761.67V427.36H1767.33V427.26H1772.99V427.16H1778.64V427.07H1784.30V426.99H1789.96V426.90H1795.62V426.82H1801.27V426.74H1806.93V426.66H1812.59V426.58H1818.25V426.49H1823.90V426.41H1829.56V426.32H1835.22V426.24H1840.88V426.16H1846.53V426.07H1852.19V425.99H1857.85V425.90H1863.51V425.82H1869.16V425.72H1874.82V425.63H1880.48V425.56H1886.14V425.49H1891.79V425.42H1897.45V425.35H1903.11V425.29H1908.77V425.22H1914.42V425.16H1920.08V425.10H1925.74V425.04H1931.40V424.99H1937.05V424.93H1942.71V424.88H1948.37V424.82H1954.03V424.77H1959.68V424.72H1965.34V424.67H1971.00V424.62H1976.66V424.58H1982.31V424.53H1987.97V424.48H1993.63V424.44H1999.29V424.40H2004.94V424.36H2010.60V424.32H2016.26V424.28H2021.92V424.24H2023.70V906.60Z"/><path fill="#9a795c" d="M166.26,906.60V848.30H171.92H177.57H183.23H188.89H194.55H200.20V825.20H205.86H211.52H217.18H222.83H228.49H234.15H239.81H245.46H251.12H256.78H262.44H268.09H273.75H279.41H285.06H290.72H296.38H302.04H307.69H313.35H319.01H324.67H330.32H335.98H341.64H347.30V824.13H352.95V820.57H358.61V817.33H364.27V814.30H369.93V813.13H375.58V811.90H381.24V810.80H386.90V809.73H392.56V808.70H398.21V807.63H403.87V806.63H409.53V805.57H415.19V804.67H420.85V803.93H426.50V801.67H432.16V801.20H437.82V799.10H443.48V793.93H449.13V789.40H454.79V784.82H460.45V779.73H466.11V775.73H471.76V771.33H477.42V766.03H483.08V762.23H488.74V758.67H494.39V753.30H500.05V749.50H505.71V745.95H511.37V740.95H517.02V737.40H522.68V733.82H528.34V729.75H534.00V726.20H539.65V722.65H545.31V718.60H550.97V715.25H556.62V711.90H562.28V708.15H567.94V704.80H573.60V701.00H579.25V697.82H584.91V694.58H590.57V691.25H596.23V688.40H601.88V685.52H607.54V682.57H613.20V679.90H618.86V676.72H624.51V673.85H630.17V671.20H635.83V668.30H641.49V665.60H647.14V663.00H652.80V660.10H658.46V657.70H664.12V655.30H669.77V652.90H675.43V650.40H681.09V648.00H686.75V645.60H692.40V643.09H698.06V640.49H703.72V637.86H709.38V635.24H715.03V632.69H720.69V630.27H726.35V628.01H732.01V625.84H737.66V623.74H743.32V621.70H748.98V619.72H754.64V617.80H760.29V615.91H765.95V614.07H771.61V612.27H777.27V610.50H782.92V608.79H788.58V607.11H794.24V605.47H799.90V603.86H805.55V602.27H811.21V600.71H816.87V599.15H822.53V597.61H828.18V596.12H833.84V594.65H839.50V593.20H845.16V591.76H850.81V590.31H856.47V588.85H862.13V587.36H867.79V585.80H873.44V584.20H879.10V582.71H884.76V581.31H890.42V579.96H896.07V578.64H901.73V577.36H907.39V576.12H913.05V574.91H918.70V573.74H924.36V572.59H930.02V571.48H935.68V570.40H941.33V569.35H946.99V568.33H952.65V567.33H958.31V566.35H963.96V565.37H969.62V564.41H975.28V563.46H980.94V562.51H986.59V561.58H992.25V560.66H997.91V559.76H1003.57V558.87H1009.23V557.99H1014.88V557.13H1020.54V556.29H1026.20V555.49H1031.86V554.71H1037.51V553.96H1043.17V553.20H1048.83V552.44H1054.49V551.65H1060.14V550.83H1065.80V549.95H1071.46V548.97H1077.12V548.01H1082.77V547.15H1088.43V546.31H1094.09V545.51H1099.74V544.73H1105.40V543.97H1111.06V543.23H1116.72V542.51H1122.38V541.81H1128.03V541.12H1133.69V540.44H1139.35V539.78H1145.01V539.14H1150.66V538.51H1156.32V537.90H1161.98V537.30H1167.63V536.72H1173.29V536.16H1178.95V535.61H1184.61V535.07H1190.26V534.55H1195.92V534.04H1201.58V533.54H1207.24V533.06H1212.89V532.59H1218.55V532.14H1224.21V531.71H1229.87V531.30H1235.53V530.91H1241.18V530.53H1246.84V530.15H1252.50V529.77H1258.15V529.37H1263.81V528.96H1269.47V528.51H1275.13V528.06H1280.78V527.62H1286.44V527.19H1292.10V526.77H1297.76V526.35H1303.41V525.93H1309.07V525.53H1314.73V525.13H1320.39V524.74H1326.04V524.37H1331.70V524.01H1337.36V523.65H1343.02V523.30H1348.67V522.96H1354.33V522.63H1359.99V522.30H1365.65V521.99H1371.31V521.68H1376.96V521.38H1382.62V521.09H1388.28V520.80H1393.93V520.53H1399.59V520.26H1405.25V519.99H1410.91V519.72H1416.57V519.46H1422.22V519.19H1427.88V518.94H1433.54V518.68H1439.19V518.43H1444.85V518.19H1450.51V517.94H1456.17V517.68H1461.83V517.43H1467.48V517.16H1473.14V516.88H1478.80V516.63H1484.45V516.40H1490.11V516.19H1495.77V515.98H1501.43V515.78H1507.09V515.58H1512.74V515.39H1518.40V515.20H1524.06V515.00H1529.71V514.80H1535.37V514.60H1541.03V514.40H1546.69V514.21H1552.35V514.01H1558.00V513.82H1563.66V513.63H1569.32V513.45H1574.97V513.27H1580.63V513.09H1586.29V512.90H1591.95V512.72H1597.61V512.55H1603.26V512.38H1608.92V512.22H1614.58V512.08H1620.23V511.94H1625.89V511.82H1631.55V511.71H1637.21V511.61H1642.87V511.51H1648.52V511.41H1654.18V511.31H1659.84V511.20H1665.49V511.08H1671.15V510.94H1676.81V510.81H1682.47V510.69H1688.12V510.57H1693.78V510.46H1699.44V510.36H1705.10V510.25H1710.75V510.15H1716.41V510.04H1722.07V509.94H1727.73V509.83H1733.38V509.72H1739.04V509.60H1744.70V509.49H1750.36V509.38H1756.01V509.27H1761.67V509.16H1767.33V509.06H1772.99V508.96H1778.64V508.87H1784.30V508.79H1789.96V508.70H1795.62V508.62H1801.27V508.54H1806.93V508.46H1812.59V508.38H1818.25V508.29H1823.90V508.21H1829.56V508.12H1835.22V508.04H1840.88V507.96H1846.53V507.87H1852.19V507.79H1857.85V507.70H1863.51V507.62H1869.16V507.52H1874.82V507.43H1880.48V507.36H1886.14V507.29H1891.79V507.22H1897.45V507.15H1903.11V507.09H1908.77V507.02H1914.42V506.96H1920.08V506.90H1925.74V506.84H1931.40V506.79H1937.05V506.73H1942.71V506.68H1948.37V506.62H1954.03V506.57H1959.68V506.52H1965.34V506.47H1971.00V506.42H1976.66V506.38H1982.31V506.33H1987.97V506.28H1993.63V506.24H1999.29V506.20H2004.94V506.16H2010.60V506.12H2016.26V506.08H2021.92V506.04H2023.70V906.60Z"/><path fill="#a35049" d="M53.11,906.60V899.00H58.77H64.42V886.10H70.08H75.74V867.90H81.40V866.00H87.05V864.30H92.71V862.90H98.37H104.03H109.68H115.34H121.00H126.66H132.31H137.97H143.63H149.29H154.94H160.60H166.26H171.92H177.57H183.23H188.89H194.55H200.20H205.86H211.52H217.18H222.83H228.49H234.15H239.81H245.46H251.12H256.78H262.44H268.09H273.75H279.41H285.06H290.72H296.38H302.04H307.69H313.35H319.01H324.67H330.32H335.98H341.64H347.30H352.95H358.61H364.27H369.93H375.58H381.24H386.90H392.56H398.21H403.87H409.53H415.19H420.85H426.50H432.16H437.82H443.48H449.13H454.79H460.45H466.11H471.76H477.42H483.08H488.74H494.39H500.05H505.71H511.37H517.02H522.68H528.34H534.00H539.65H545.31H550.97H556.62H562.28H567.94H573.60H579.25H584.91H590.57H596.23H601.88H607.54H613.20H618.86H624.51H630.17H635.83H641.49H647.14H652.80H658.46H664.12H669.77H675.43H681.09H686.75H692.40H698.06H703.72H709.38H715.03H720.69H726.35H732.01H737.66H743.32H748.98H754.64H760.29H765.95H771.61H777.27H782.92H788.58H794.24H799.90H805.55H811.21H816.87H822.53H828.18H833.84H839.50H845.16H850.81H856.47H862.13H867.79H873.44H879.10H884.76H890.42H896.07H901.73H907.39H913.05H918.70H924.36H930.02H935.68H941.33H946.99H952.65H958.31H963.96H969.62H975.28H980.94H986.59H992.25H997.91H1003.57H1009.23H1014.88H1020.54H1026.20H1031.86H1037.51H1043.17H1048.83H1054.49H1060.14H1065.80H1071.46H1077.12H1082.77H1088.43H1094.09H1099.74H1105.40H1111.06H1116.72H1122.38H1128.03H1133.69H1139.35H1145.01H1150.66H1156.32H1161.98H1167.63H1173.29H1178.95H1184.61H1190.26H1195.92H1201.58H1207.24H1212.89H1218.55H1224.21H1229.87H1235.53H1241.18H1246.84H1252.50H1258.15H1263.81H1269.47H1275.13H1280.78H1286.44H1292.10H1297.76H1303.41H1309.07H1314.73H1320.39H1326.04H1331.70H1337.36H1343.02H1348.67H1354.33H1359.99H1365.65H1371.31H1376.96H1382.62H1388.28H1393.93H1399.59H1405.25H1410.91H1416.57H1422.22H1427.88H1433.54H1439.19H1444.85H1450.51H1456.17H1461.83H1467.48H1473.14H1478.80H1484.45H1490.11H1495.77H1501.43H1507.09H1512.74H1518.40H1524.06H1529.71H1535.37H1541.03H1546.69H1552.35H1558.00H1563.66H1569.32H1574.97H1580.63H1586.29H1591.95H1597.61H1603.26H1608.92H1614.58H1620.23H1625.89H1631.55H1637.21H1642.87H1648.52H1654.18H1659.84H1665.49H1671.15H1676.81H1682.47H1688.12H1693.78H1699.44H1705.10H1710.75H1716.41H1722.07H1727.73H1733.38H1739.04H1744.70H1750.36H1756.01H1761.67H1767.33H1772.99H1778.64H1784.30H1789.96H1795.62H1801.27H1806.93H1812.59H1818.25H1823.90H1829.56H1835.22H1840.88H1846.53H1852.19H1857.85H1863.51H1869.16H1874.82H1880.48H1886.14H1891.79H1897.45H1903.11H1908.77H1914.42H1920.08H1925.74H1931.40H1937.05H1942.71H1948.37H1954.03H1959.68H1965.34H1971.00H1976.66H1982.31H1987.97H1993.63H1999.29H2004.94H2010.60H2016.26H2021.92H2023.70V906.60Z"/><path fill="#1a758e" d="M53.11,906.60V905.50H58.77H64.42H70.08H75.74V887.05H81.40H87.05H92.71H98.37H104.03H109.68H115.34H121.00H126.66H132.31H137.97H143.63H149.29H154.94H160.60H166.26H171.92H177.57H183.23H188.89H194.55H200.20H205.86H211.52H217.18H222.83H228.49H234.15H239.81H245.46H251.12H256.78H262.44H268.09H273.75H279.41H285.06H290.72H296.38H302.04H307.69H313.35H319.01H324.67H330.32H335.98H341.64H347.30H352.95H358.61H364.27H369.93H375.58H381.24H386.90H392.56H398.21H403.87H409.53H415.19H420.85H426.50H432.16H437.82H443.48H449.13H454.79H460.45H466.11H471.76H477.42H483.08H488.74H494.39H500.05H505.71H511.37H517.02H522.68H528.34H534.00H539.65H545.31H550.97H556.62H562.28H567.94H573.60H579.25H584.91H590.57H596.23H601.88H607.54H613.20H618.86H624.51H630.17H635.83H641.49H647.14H652.80H658.46H664.12H669.77H675.43H681.09H686.75H692.40H698.06H703.72H709.38H715.03H720.69H726.35H732.01H737.66H743.32H748.98H754.64H760.29H765.95H771.61H777.27H782.92H788.58H794.24H799.90H805.55H811.21H816.87H822.53H828.18H833.84H839.50H845.16H850.81H856.47H862.13H867.79H873.44H879.10H884.76H890.42H896.07H901.73H907.39H913.05H918.70H924.36H930.02H935.68H941.33H946.99H952.65H958.31H963.96H969.62H975.28H980.94H986.59H992.25H997.91H1003.57H1009.23H1014.88H1020.54H1026.20H1031.86H1037.51H1043.17H1048.83H1054.49H1060.14H1065.80H1071.46H1077.12H1082.77H1088.43H1094.09H1099.74H1105.40H1111.06H1116.72H1122.38H1128.03H1133.69H1139.35H1145.01H1150.66H1156.32H1161.98H1167.63H1173.29H1178.95H1184.61H1190.26H1195.92H1201.58H1207.24H1212.89H1218.55H1224.21H1229.87H1235.53H1241.18H1246.84H1252.50H1258.15H1263.81H1269.47H1275.13H1280.78H1286.44H1292.10H1297.76H1303.41H1309.07H1314.73H1320.39H1326.04H1331.70H1337.36H1343.02H1348.67H1354.33H1359.99H1365.65H1371.31H1376.96H1382.62H1388.28H1393.93H1399.59H1405.25H1410.91H1416.57H1422.22H1427.88H1433.54H1439.19H1444.85H1450.51H1456.17H1461.83H1467.48H1473.14H1478.80H1484.45H1490.11H1495.77H1501.43H1507.09H1512.74H1518.40H1524.06H1529.71H1535.37H1541.03H1546.69H1552.35H1558.00H1563.66H1569.32H1574.97H1580.63H1586.29H1591.95H1597.61H1603.26H1608.92H1614.58H1620.23H1625.89H1631.55H1637.21H1642.87H1648.52H1654.18H1659.84H1665.49H1671.15H1676.81H1682.47H1688.12H1693.78H1699.44H1705.10H1710.75H1716.41H1722.07H1727.73H1733.38H1739.04H1744.70H1750.36H1756.01H1761.67H1767.33H1772.99H1778.64H1784.30H1789.96H1795.62H1801.27H1806.93H1812.59H1818.25H1823.90H1829.56H1835.22H1840.88H1846.53H1852.19H1857.85H1863.51H1869.16H1874.82H1880.48H1886.14H1891.79H1897.45H1903.11H1908.77H1914.42H1920.08H1925.74H1931.40H1937.05H1942.71H1948.37H1954.03H1959.68H1965.34H1971.00H1976.66H1982.31H1987.97H1993.63H1999.29H2004.94H2010.60H2016.26H2021.92H2023.70V906.60Z"/></g>
<line x1="32.40" x2="2021.5" y1="907.4" y2="907.4" stroke="#070812" stroke-opacity="0.5" stroke-width="3.0" stroke-dasharray="6.8 2.96"/><line x1="34.1" x2="2019.5" y1="907.4" y2="907.4" stroke="#070812" stroke-opacity="0.5" stroke-width="5.3" stroke-dasharray="3.4 6.36"/><line x1="34.1" x2="2019.5" y1="907.4" y2="907.4" stroke="#fff" stroke-width="3.0" stroke-dasharray="3.4 6.36" />
<g id="labels">
<circle cx="54.0" cy="38.1" r="13.7" fill="#496ef7"/>
<circle cx="509.9" cy="38.1" r="13.7" fill="#14c784"/>
<circle cx="727.7" cy="38.1" r="13.7" fill="#f5b97f"/>
<circle cx="941.0" cy="38.1" r="13.7" fill="#ff7a5f"/>
<circle cx="1304.6" cy="38.1" r="13.7" fill="#15b3d3"/>
<text id="today" x="450.05" y="132.50" font-size="29" fill="#ffffff" textLength="76.52" lengthAdjust="spacingAndGlyphs" stroke="#ffffff" stroke-width="0.7">Today</text>
<text id="lg0" x="86.12" y="49.70" font-size="29" fill="#9298af" textLength="355.54" lengthAdjust="spacingAndGlyphs" >Team/Advisors/Contractors</text>
<text id="lg1" x="539.76" y="49.70" font-size="29" fill="#9298af" textLength="119.90" lengthAdjust="spacingAndGlyphs" >Investors</text>
<text id="lg2" x="761.19" y="49.70" font-size="29" fill="#9298af" textLength="110.42" lengthAdjust="spacingAndGlyphs" >Treasury</text>
<text id="lg3" x="971.34" y="49.70" font-size="29" fill="#9298af" textLength="264.52" lengthAdjust="spacingAndGlyphs" >Private Sale investor</text>
<text id="lg4" x="1335.14" y="49.70" font-size="29" fill="#9298af" textLength="388.35" lengthAdjust="spacingAndGlyphs" >Public (e.g. miner, ICO, trader)</text>
<text id="y0" x="2050.78" y="164.00" font-size="28.4" fill="#9298af" textLength="64.92" lengthAdjust="spacingAndGlyphs" >125B</text>
<text id="y1" x="2050.84" y="313.60" font-size="28.4" fill="#9298af" textLength="65.48" lengthAdjust="spacingAndGlyphs" >100B</text>
<text id="y2" x="2051.48" y="464.90" font-size="28.4" fill="#9298af" textLength="50.19" lengthAdjust="spacingAndGlyphs" >75B</text>
<text id="y3" x="2051.90" y="616.50" font-size="28.4" fill="#9298af" textLength="52.02" lengthAdjust="spacingAndGlyphs" >50B</text>
<text id="y4" x="2052.06" y="767.90" font-size="28.4" fill="#9298af" textLength="51.44" lengthAdjust="spacingAndGlyphs" >25B</text>
<text id="y5" x="2051.68" y="918.80" font-size="28.4" fill="#9298af" textLength="18.33" lengthAdjust="spacingAndGlyphs" >0</text>
<text id="xa0" x="82.12" y="969.90" font-size="28.4" fill="#9298af" textLength="83.11" lengthAdjust="spacingAndGlyphs" >01 Jan</text>
<text id="xb0" x="89.92" y="1003.90" font-size="28.4" fill="#9298af" textLength="66.57" lengthAdjust="spacingAndGlyphs" >2020</text>
<text id="xa1" x="217.72" y="969.90" font-size="28.4" fill="#9298af" textLength="83.37" lengthAdjust="spacingAndGlyphs" >01 Jan</text>
<text id="xb1" x="225.65" y="1003.90" font-size="28.4" fill="#9298af" textLength="66.88" lengthAdjust="spacingAndGlyphs" >2022</text>
<text id="xa2" x="353.60" y="969.90" font-size="28.4" fill="#9298af" textLength="83.32" lengthAdjust="spacingAndGlyphs" >01 Jan</text>
<text id="xb2" x="361.42" y="1003.90" font-size="28.4" fill="#9298af" textLength="66.16" lengthAdjust="spacingAndGlyphs" >2024</text>
<text id="xa3" x="489.49" y="969.90" font-size="28.4" fill="#9298af" textLength="83.00" lengthAdjust="spacingAndGlyphs" >01 Jan</text>
<text id="xb3" x="497.39" y="1003.90" font-size="28.4" fill="#9298af" textLength="66.51" lengthAdjust="spacingAndGlyphs" >2026</text>
<text id="xa4" x="625.27" y="969.90" font-size="28.4" fill="#9298af" textLength="83.01" lengthAdjust="spacingAndGlyphs" >01 Jan</text>
<text id="xb4" x="632.98" y="1003.90" font-size="28.4" fill="#9298af" textLength="66.79" lengthAdjust="spacingAndGlyphs" >2028</text>
<text id="xa5" x="761.00" y="969.90" font-size="28.4" fill="#9298af" textLength="83.16" lengthAdjust="spacingAndGlyphs" >01 Jan</text>
<text id="xb5" x="768.85" y="1003.90" font-size="28.4" fill="#9298af" textLength="66.37" lengthAdjust="spacingAndGlyphs" >2030</text>
<text id="xa6" x="896.62" y="969.90" font-size="28.4" fill="#9298af" textLength="83.30" lengthAdjust="spacingAndGlyphs" >01 Jan</text>
<text id="xb6" x="904.53" y="1003.90" font-size="28.4" fill="#9298af" textLength="66.91" lengthAdjust="spacingAndGlyphs" >2032</text>
<text id="xa7" x="1032.55" y="969.90" font-size="28.4" fill="#9298af" textLength="83.18" lengthAdjust="spacingAndGlyphs" >01 Jan</text>
<text id="xb7" x="1040.39" y="1003.90" font-size="28.4" fill="#9298af" textLength="66.05" lengthAdjust="spacingAndGlyphs" >2034</text>
<text id="xa8" x="1168.37" y="969.90" font-size="28.4" fill="#9298af" textLength="83.18" lengthAdjust="spacingAndGlyphs" >01 Jan</text>
<text id="xb8" x="1176.27" y="1003.90" font-size="28.4" fill="#9298af" textLength="66.64" lengthAdjust="spacingAndGlyphs" >2036</text>
<text id="xa9" x="1304.10" y="969.90" font-size="28.4" fill="#9298af" textLength="83.07" lengthAdjust="spacingAndGlyphs" >01 Jan</text>
<text id="xb9" x="1311.88" y="1003.90" font-size="28.4" fill="#9298af" textLength="66.70" lengthAdjust="spacingAndGlyphs" >2038</text>
<text id="xa10" x="1439.91" y="969.90" font-size="28.4" fill="#9298af" textLength="83.24" lengthAdjust="spacingAndGlyphs" >01 Jan</text>
<text id="xb10" x="1447.72" y="1003.90" font-size="28.4" fill="#9298af" textLength="66.40" lengthAdjust="spacingAndGlyphs" >2040</text>
<text id="xa11" x="1575.55" y="969.90" font-size="28.4" fill="#9298af" textLength="83.27" lengthAdjust="spacingAndGlyphs" >01 Jan</text>
<text id="xb11" x="1583.60" y="1003.90" font-size="28.4" fill="#9298af" textLength="66.75" lengthAdjust="spacingAndGlyphs" >2042</text>
<text id="xa12" x="1711.47" y="969.90" font-size="28.4" fill="#9298af" textLength="83.22" lengthAdjust="spacingAndGlyphs" >01 Jan</text>
<text id="xb12" x="1719.40" y="1003.90" font-size="28.4" fill="#9298af" textLength="66.03" lengthAdjust="spacingAndGlyphs" >2044</text>
<text id="xa13" x="1847.27" y="969.90" font-size="28.4" fill="#9298af" textLength="83.01" lengthAdjust="spacingAndGlyphs" >01 Jan</text>
<text id="xb13" x="1855.19" y="1003.90" font-size="28.4" fill="#9298af" textLength="66.57" lengthAdjust="spacingAndGlyphs" >2046</text>
</g>
</svg>
</body>
</html>
